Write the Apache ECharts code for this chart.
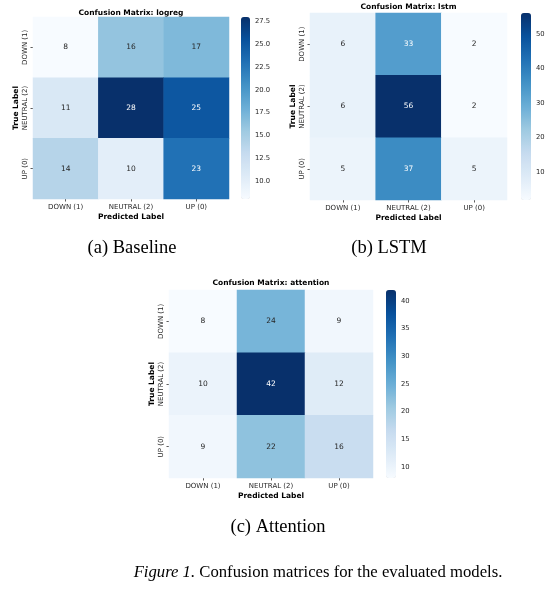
<!DOCTYPE html>
<html><head><meta charset="utf-8">
<script src="https://cdn.jsdelivr.net/npm/echarts@6/dist/echarts.min.js"></script>
<style>html,body{margin:0;padding:0;background:#fff}#c{width:557px;height:594px}</style>
</head><body><div id="c"></div>
<script>
const categories = ['DOWN (1)', 'NEUTRAL (2)', 'UP (0)'];
const logregValues = [[8,16,17],[11,28,25],[14,10,23]];
const lstmValues = [[6,33,2],[6,56,2],[5,37,5]];
const attentionValues = [[8,24,9],[10,42,12],[9,22,16]];
const logregTicks = [10,12.5,15,17.5,20,22.5,25,27.5];
const lstmTicks = [10,20,30,40,50];
const attentionTicks = [10,15,20,25,30,35,40];
const titles = ['Confusion Matrix: logreg','Confusion Matrix: lstm','Confusion Matrix: attention'];
const subCaptions = ['(a) Baseline','(b) LSTM','(c) Attention'];

const blues = ['#f7fbff','#deebf7','#c6dbef','#9ecae1','#6baed6','#4292c6','#2171b5','#08519c','#08306b'];
const FONT = 'DejaVu Sans';
const panels = [
  {vals: logregValues, ticks: logregTicks, dec: 1, g:{left:33, top:17, width:196, height:182}, cb:{left:241, width:9}, titleY: 13, cap:{x:132,y:248}},
  {vals: lstmValues, ticks: lstmTicks, dec: 0, g:{left:310, top:13, width:197, height:187}, cb:{left:521, width:10}, titleY: 7, cap:{x:389,y:248}},
  {vals: attentionValues, ticks: attentionTicks, dec: 0, g:{left:169, top:290, width:204, height:188}, cb:{left:386, width:10}, titleY: 283.5, cap:{x:278,y:527}}
];

const grid=[], xAxis=[], yAxis=[], series=[], visualMap=[], graphic=[];
panels.forEach((p,i)=>{
  const flat = p.vals.flat();
  const mn = Math.min(...flat), mx = Math.max(...flat);
  grid.push({left:p.g.left, top:p.g.top, width:p.g.width, height:p.g.height});
  const gi = grid.length-1;
  xAxis.push({type:'category', gridIndex:gi, data:categories, position:'bottom',
    axisLine:{show:false}, splitLine:{show:false}, splitArea:{show:false},
    axisTick:{show:true, alignWithLabel:true, length:2.5, lineStyle:{color:'#333', width:0.8}},
    axisLabel:{fontFamily:FONT, fontSize:7, color:'#262626', margin:4.5},
    name:'Predicted Label', nameLocation:'middle', nameGap:14,
    nameTextStyle:{fontFamily:FONT, fontSize:7.5, fontWeight:'bold', color:'#000'}});
  yAxis.push({type:'category', gridIndex:gi, data:categories, inverse:true,
    axisLine:{show:false}, splitLine:{show:false}, splitArea:{show:false},
    axisTick:{show:true, alignWithLabel:true, length:2.5, lineStyle:{color:'#333', width:0.8}},
    axisLabel:{fontFamily:FONT, fontSize:7, color:'#262626', rotate:90, margin:4},
    name:'True Label', nameLocation:'middle', nameGap:13, nameRotate:90,
    nameTextStyle:{fontFamily:FONT, fontSize:7.5, fontWeight:'bold', color:'#000'}});
  const data=[];
  p.vals.forEach((row,r)=>row.forEach((v,c)=>{
    const t=(v-mn)/(mx-mn);
    data.push({value:[c,r,v], label:{color: t>0.52 ? '#ffffff' : '#262626'}});
  }));
  series.push({type:'heatmap', xAxisIndex:xAxis.length-1, yAxisIndex:yAxis.length-1, data:data,
    label:{show:true, fontFamily:FONT, fontSize:7.5}, itemStyle:{borderWidth:0}, emphasis:{disabled:true}, progressive:0});
  visualMap.push({type:'continuous', seriesIndex:i, min:mn, max:mx, calculable:false, show:true,
    inRange:{color:blues}, orient:'vertical', left:p.cb.left, top:p.g.top, itemWidth:p.cb.width, itemHeight:p.g.height,
    padding:0, text:null, showLabel:false, hoverLink:false, dimension:2});
  grid.push({left:p.cb.left, top:p.g.top, width:p.cb.width, height:p.g.height});
  const ci = grid.length-1;
  xAxis.push({type:'value', gridIndex:ci, show:false, min:0, max:1});
  yAxis.push({type:'value', gridIndex:ci, min:mn, max:mx, position:'right',
    axisLine:{show:false}, splitLine:{show:false},
    axisTick:{show:true, length:2.5, customValues:p.ticks, lineStyle:{color:'#333', width:0.8}},
    axisLabel:{fontFamily:FONT, fontSize:6.8, color:'#262626', margin:5, customValues:p.ticks,
      formatter:(v)=>Number(v).toFixed(p.dec)}});
  graphic.push({type:'text', x:p.g.left+p.g.width/2, y:p.titleY,
    style:{text:titles[i], fontFamily:FONT, fontSize:7.5, fontWeight:'bold', fill:'#000', textAlign:'center', textVerticalAlign:'middle'}});
  graphic.push({type:'text', x:p.cap.x, y:p.cap.y,
    style:{text:subCaptions[i], fontFamily:'Liberation Serif', fontSize:18.5, fill:'#000', textAlign:'center', textVerticalAlign:'middle'}});
});
graphic.push({type:'text', x:318, y:573,
  style:{text:'{i|Figure 1.} Confusion matrices for the evaluated models.', fontFamily:'Liberation Serif', fontSize:16.7, fill:'#000',
    textAlign:'center', textVerticalAlign:'middle', rich:{i:{fontStyle:'italic', fontFamily:'Liberation Serif', fontSize:16.7, fill:'#000'}}}});

const chart = echarts.init(document.getElementById('c'), null, {renderer:'canvas'});
chart.setOption({animation:false, backgroundColor:'#fff', grid, xAxis, yAxis, series, visualMap, graphic});
</script></body></html>
